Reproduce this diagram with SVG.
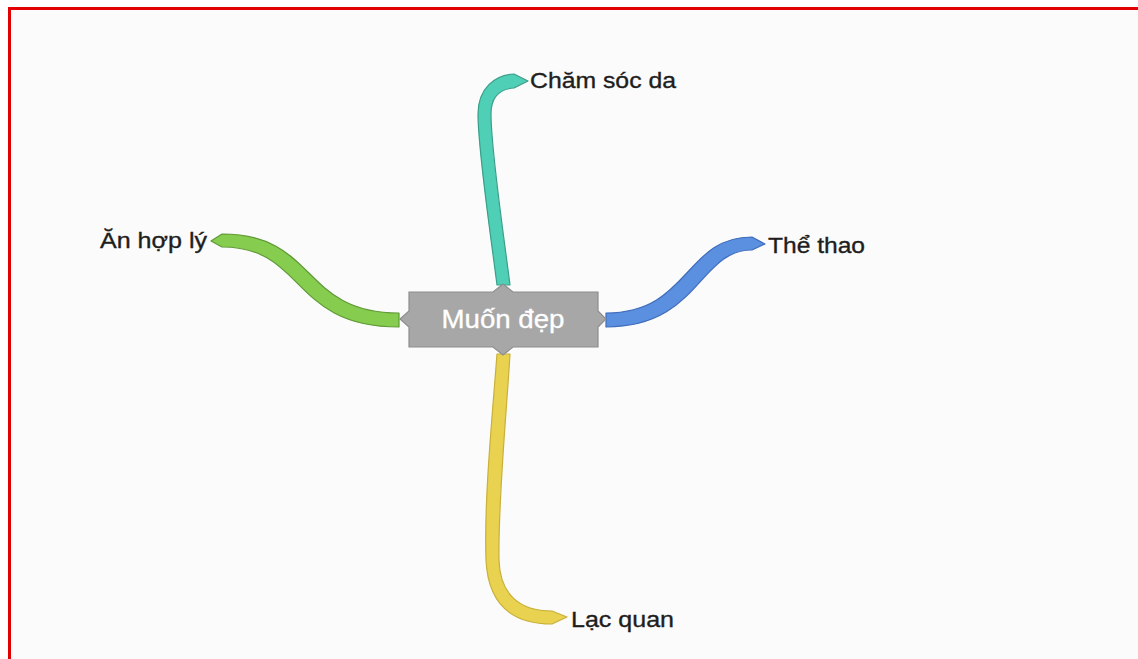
<svg xmlns="http://www.w3.org/2000/svg" width="1138" height="659" viewBox="0 0 1138 659">
<style>
.lbl{font-family:"Liberation Sans",Arial,sans-serif;font-size:22px;fill:#1e1e1e;stroke:#1e1e1e;stroke-width:0.35}
.br{stroke-width:1.2;stroke-linejoin:round}
</style>
<rect x="0" y="0" width="1138" height="659" fill="#ffffff"/>
<rect x="9.5" y="8.5" width="1140" height="660" fill="#fbfbfb" stroke="#e30000" stroke-width="3"/>
<g id="connectors">
<path class="br" d="M 497 285 C 490 230, 478 150, 478 114 C 478 88, 495 75, 514 74 L 528 81 L 514 88 C 500 89, 491 97, 491 114 C 491 150, 503 230, 510 285 Z" fill="#4fcfb5" stroke="#3a9f8a"/>
<path class="br" d="M 399 313 C 300 313, 318 234, 222 234 L 211 241 L 222 247 C 306 247, 290 327, 399 327 Z" fill="#86cc4f" stroke="#5f9a36"/>
<path class="br" d="M 606 313 C 690 313, 684 237, 752 237 L 765 244 L 752 250 C 698 250, 700 327, 606 327 Z" fill="#5b8fe0" stroke="#3f6dbb"/>
<path class="br" d="M 497 354 C 492 420, 484 500, 486 560 C 488 602, 510 624, 552 624 L 567 617 L 552 611 C 520 611, 500 595, 499 560 C 498 500, 506 420, 510 354 Z" fill="#e9d24f" stroke="#c8b03a"/>
</g>
<g id="center">
<path d="M 409 292 L 493 292 L 503 284 L 513 292 L 598 292 L 598 311 L 606 319 L 598 327 L 598 347 L 513 347 L 503 355 L 493 347 L 409 347 L 409 327 L 400 319 L 409 311 Z" fill="#a7a7a7" stroke="#8e8e8e" stroke-width="1.2"/>
<text x="503" y="328" text-anchor="middle" font-family="Liberation Sans, Arial, sans-serif" font-size="25" fill="#ffffff" stroke="#ffffff" stroke-width="0.3" textLength="123" lengthAdjust="spacingAndGlyphs">Muốn đẹp</text>
</g>
<g id="n-chamsocda"><text class="lbl" x="530" y="88" textLength="146" lengthAdjust="spacingAndGlyphs">Chăm sóc da</text></g>
<g id="n-anhoply"><text class="lbl" x="100" y="248" textLength="107" lengthAdjust="spacingAndGlyphs">Ăn hợp lý</text></g>
<g id="n-thethao"><text class="lbl" x="768" y="253" textLength="97" lengthAdjust="spacingAndGlyphs">Thể thao</text></g>
<g id="n-lacquan"><text class="lbl" x="571" y="627" textLength="103" lengthAdjust="spacingAndGlyphs">Lạc quan</text></g>
</svg>
